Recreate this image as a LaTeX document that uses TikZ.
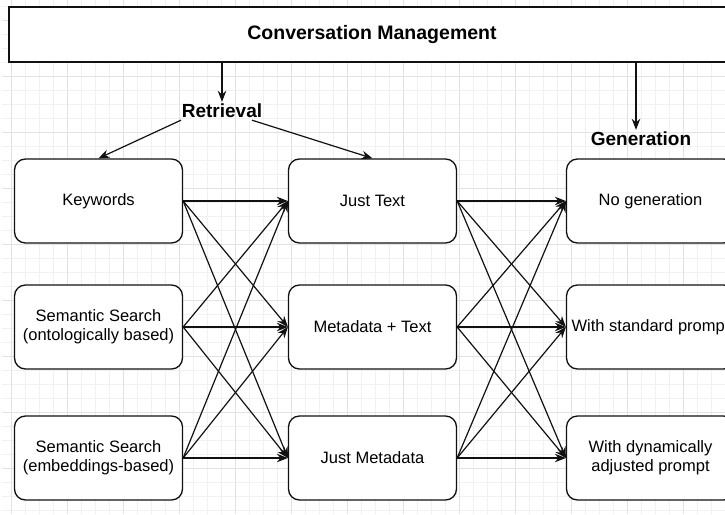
\documentclass[tikz,border=0pt]{standalone}
\usepackage{fontspec}
\setmainfont{Liberation Sans}
\usetikzlibrary{arrows.meta}
\definecolor{gridmajor}{HTML}{E2E2E2}
\definecolor{gridminor}{HTML}{F1F1F1}
\definecolor{ink}{HTML}{111111}
\begin{document}
\begin{tikzpicture}[x=1pt,y=-1pt,
  box/.style={draw=ink, line width=1.3pt, rounded corners=11pt, fill=white,
    font=\fontsize{16.5}{19}\selectfont, align=center, inner sep=0pt,
    minimum width=168pt, minimum height=84pt},
  topbox/.style={draw=ink, line width=1.3pt, fill=white, inner sep=0pt,
    minimum width=726pt, minimum height=55pt, font=\bfseries\fontsize{19.5}{23}\selectfont},
  lbl/.style={font=\bfseries\fontsize{19}{22}\selectfont, inner sep=2pt},
  arr/.style={draw=ink, line width=1.2pt, -{Stealth[length=11pt,width=8.5pt]}}]
\useasboundingbox (0,0) rectangle (725,514);
% grid
\begin{scope}
\clip (2,0) rectangle (725,514);
\foreach \x in {-3,11,...,725} \draw[gridminor, line width=0.8pt] (\x,0) -- (\x,514);
\foreach \y in {6,20,...,514} \draw[gridminor, line width=0.8pt] (0,\y) -- (725,\y);
\foreach \x in {11,67,...,725} \draw[gridmajor, line width=0.9pt] (\x,0) -- (\x,514);
\foreach \y in {20,76,...,514} \draw[gridmajor, line width=0.9pt] (0,\y) -- (725,\y);
\end{scope}
% top
\node[topbox] (cm) at (372,34.5) {Conversation Management};
\node[lbl] (retr) at (222,111) {Retrieval};
\node[lbl] (gen) at (641,139) {Generation};
% boxes
\node[box] (kw)  at (98.5,201) {Keywords};
\node[box] (ont) at (98.5,327) {Semantic Search\\(ontologically based)};
\node[box] (emb) at (98.5,458) {Semantic Search\\(embeddings-based)};
\node[box] (jt)  at (372.5,201) {Just Text};
\node[box] (mt)  at (372.5,327) {Metadata + Text};
\node[box] (jm)  at (372.5,458) {Just Metadata};
\node[box] (ng)  at (650.5,201) {No generation};
\node[box] (sp)  at (650.5,327) {With standard prompt};
\node[box] (dp)  at (650.5,458) {With dynamically\\adjusted prompt};
% top arrows
\draw[arr] (cm.south -| retr.north) -- (retr.north);
\draw[arr] ([xshift=-5pt]gen.north |- cm.south) -- ([xshift=-5pt]gen.north);
\draw[arr] ([xshift=-41pt]retr.south) -- (kw.north);
\draw[arr] ([xshift=30pt]retr.south) -- (jt.north);
% bipartite arrows
\foreach \a in {kw,ont,emb}
  \foreach \b in {jt,mt,jm}
    \draw[arr] (\a.east) -- (\b.west);
\foreach \a in {jt,mt,jm}
  \foreach \b in {ng,sp,dp}
    \draw[arr] (\a.east) -- (\b.west);
\end{tikzpicture}
\end{document}
